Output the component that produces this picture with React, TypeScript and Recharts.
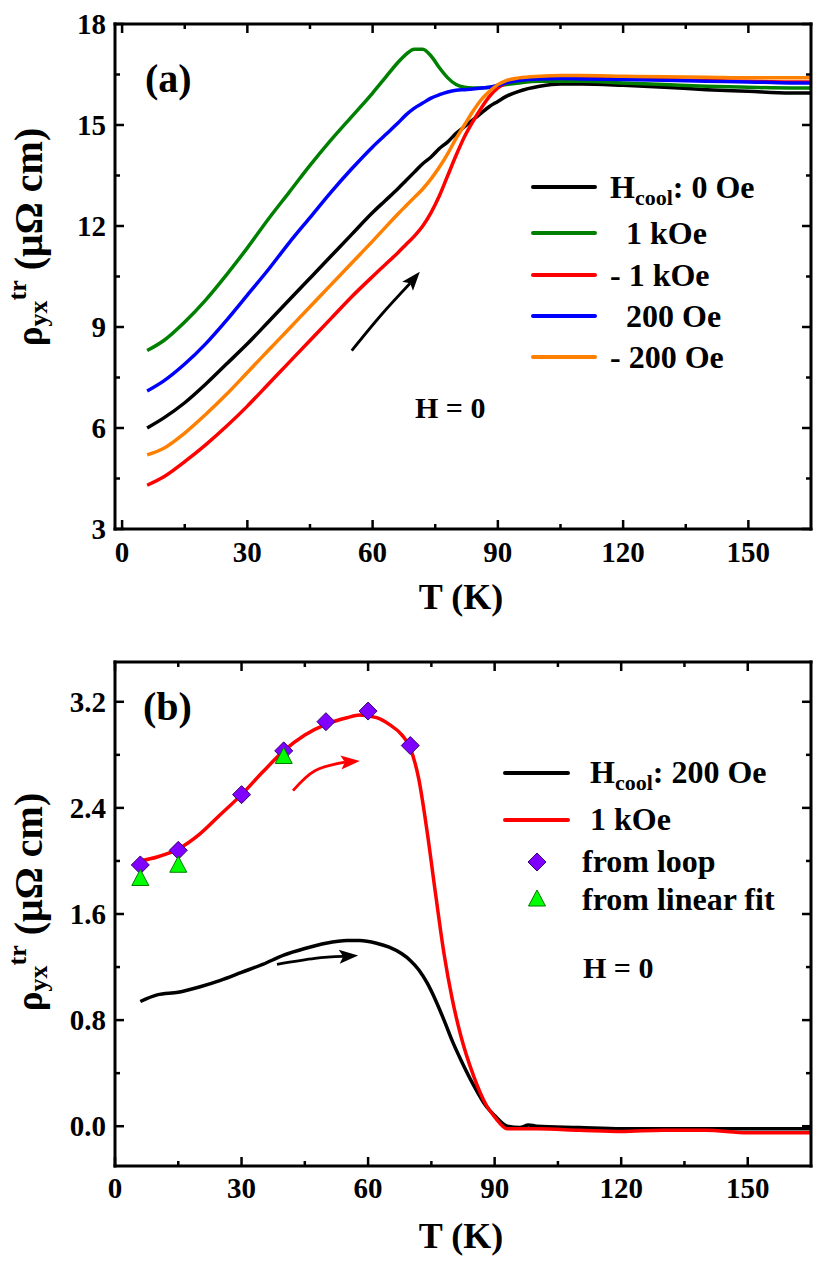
import React from 'react'
import {
  ComposedChart, Line, Scatter, XAxis, YAxis, Legend, Customized,
} from 'recharts'

const FONT = '"Liberation Serif", "Times New Roman", Times, serif'

// panel (a): transverse resistivity vs T after cooling in different fields
const tempA = [6, 10, 15, 20, 25, 30, 35, 40, 45, 50, 55, 60, 63, 66, 68, 70, 72, 74, 76, 78, 80, 82, 84, 86, 88, 90, 92, 95, 100, 105, 110, 120, 130, 140, 150, 160, 165]
const cool0 = [6.0, 6.3, 6.75, 7.3, 7.9, 8.5, 9.15, 9.8, 10.45, 11.1, 11.75, 12.4, 12.75, 13.1, 13.35, 13.6, 13.85, 14.05, 14.3, 14.5, 14.75, 14.95, 15.15, 15.35, 15.55, 15.7, 15.85, 16.0, 16.15, 16.22, 16.22, 16.18, 16.12, 16.05, 16.0, 15.95, 15.95]
const coolP1k = [8.3, 8.6, 9.15, 9.8, 10.55, 11.35, 12.2, 13.0, 13.8, 14.55, 15.25, 15.95, 16.4, 16.85, 17.1, 17.25, 17.25, 17.05, 16.7, 16.4, 16.2, 16.12, 16.1, 16.1, 16.12, 16.15, 16.2, 16.25, 16.3, 16.3, 16.3, 16.25, 16.2, 16.15, 16.12, 16.1, 16.1]
const coolM1k = [4.3, 4.55, 5.0, 5.5, 6.05, 6.65, 7.3, 7.95, 8.6, 9.25, 9.9, 10.5, 10.85, 11.2, 11.45, 11.7, 12.0, 12.4, 12.9, 13.5, 14.1, 14.65, 15.1, 15.5, 15.85, 16.1, 16.25, 16.35, 16.4, 16.42, 16.4, 16.38, 16.35, 16.32, 16.3, 16.28, 16.28]
const coolP200 = [7.1, 7.4, 7.9, 8.5, 9.2, 9.95, 10.7, 11.5, 12.25, 13.0, 13.7, 14.35, 14.7, 15.05, 15.3, 15.5, 15.65, 15.8, 15.9, 15.98, 16.03, 16.05, 16.07, 16.1, 16.12, 16.18, 16.25, 16.32, 16.37, 16.38, 16.37, 16.35, 16.33, 16.3, 16.28, 16.25, 16.25]
const coolM200 = [5.2, 5.4, 5.85, 6.4, 7.0, 7.65, 8.3, 8.95, 9.6, 10.25, 10.9, 11.55, 11.95, 12.35, 12.6, 12.85, 13.1, 13.4, 13.75, 14.15, 14.6, 15.0, 15.4, 15.75, 16.0, 16.2, 16.32, 16.4, 16.45, 16.47, 16.47, 16.45, 16.43, 16.42, 16.4, 16.4, 16.4]
const arrowAT = [55, 62, 69]
const arrowAV = [8.3, 9.35, 10.3]
const xTicksA = [0, 15, 30, 45, 60, 75, 90, 105, 120, 135, 150]
const yTicksA = [3, 4.5, 6, 7.5, 9, 10.5, 12, 13.5, 15, 16.5, 18]

// panel (b)
const tempB = [6, 10, 15, 20, 25, 30, 35, 40, 45, 50, 55, 58, 62, 65, 68, 70, 72, 74, 76, 78, 80, 82, 85, 88, 90, 93, 96, 98, 100, 110, 120, 130, 140, 150, 160, 165]
const cool200 = [0.94, 0.99, 1.01, 1.05, 1.1, 1.16, 1.22, 1.29, 1.34, 1.38, 1.4, 1.4, 1.38, 1.35, 1.3, 1.25, 1.18, 1.08, 0.95, 0.8, 0.64, 0.5, 0.31, 0.15, 0.08, 0.0, -0.01, 0.01, 0.0, -0.01, -0.02, -0.02, -0.02, -0.02, -0.02, -0.02]
const cool1k = [2.0, 2.03, 2.09, 2.2, 2.35, 2.5, 2.67, 2.83, 2.95, 3.03, 3.08, 3.1, 3.08, 3.03, 2.95, 2.85, 2.62, 2.22, 1.75, 1.3, 0.95, 0.68, 0.38, 0.16, 0.07, -0.02, -0.02, -0.02, -0.02, -0.03, -0.04, -0.03, -0.03, -0.05, -0.05, -0.05]
const loopT = [6, 15, 30, 40, 50, 60, 70]
const loopV = [1.97, 2.08, 2.5, 2.83, 3.05, 3.13, 2.87]
const fitT = [6, 15, 40]
const fitV = [1.86, 1.96, 2.78]
const arrowRedT = [42.2, 47.4, 54.5]
const arrowRedV = [2.53, 2.68, 2.745]
const arrowBlkT = [38.4, 47.4, 54.1]
const arrowBlkV = [1.22, 1.265, 1.28]
const xTicksB = [0, 15, 30, 45, 60, 75, 90, 105, 120, 135, 150]
const yTicksB = [0, 0.4, 0.8, 1.2, 1.6, 2.0, 2.4, 2.8, 3.2]

const seriesA = [
  { name: 'H_cool: 0 Oe', v: cool0, color: '#000000' },
  { name: '  1 kOe', v: coolP1k, color: '#008000' },
  { name: '- 1 kOe', v: coolM1k, color: '#ff0000' },
  { name: '  200 Oe', v: coolP200, color: '#0000ff' },
  { name: '- 200 Oe', v: coolM200, color: '#ff8000' },
]
const legendB = [
  { name: 'H_cool: 200 Oe', type: 'line', color: '#000000' },
  { name: '1 kOe', type: 'line', color: '#ff0000' },
  { name: 'from loop', type: 'diamond', color: '#8000ff' },
  { name: 'from linear fit', type: 'triangle', color: '#00ff00' },
]

const rows = (t: number[], v: number[]) => t.map((x, i) => ({ t: x, v: v[i] }))

const txt = { fontFamily: FONT, fontWeight: 700, fill: '#000' }
const AX = { stroke: '#000', strokeWidth: 3, strokeLinecap: 'square' as const }

const isMult = (v: number, step: number) => Math.abs(v / step - Math.round(v / step)) < 1e-6

function bottomTick(step: number, dy: number) {
  return (p: any) => {
    const v = p.payload.value
    const major = isMult(v, step)
    return (
      <g>
        <line x1={p.x} x2={p.x} y1={p.y} y2={p.y - (major ? 9 : 5)} stroke="#000" strokeWidth={2.5} />
        {major && <text x={p.x} y={p.y + dy} textAnchor="middle" style={{ ...txt, fontSize: 29 }}>{v}</text>}
      </g>
    )
  }
}

function topTick(step: number) {
  return (p: any) => {
    const major = isMult(p.payload.value, step)
    return <line x1={p.x} x2={p.x} y1={p.y} y2={p.y + (major ? 9 : 5)} stroke="#000" strokeWidth={2.5} />
  }
}

function leftTick(step: number, fmt: (v: number) => string) {
  return (p: any) => {
    const v = p.payload.value
    const major = isMult(v, step)
    return (
      <g>
        <line x1={p.x} x2={p.x + (major ? 9 : 5)} y1={p.y} y2={p.y} stroke="#000" strokeWidth={2.5} />
        {major && <text x={p.x - 9} y={p.y + 10} textAnchor="end" style={{ ...txt, fontSize: 29 }}>{fmt(v)}</text>}
      </g>
    )
  }
}

function rightTick(step: number) {
  return (p: any) => {
    const major = isMult(p.payload.value, step)
    return <line x1={p.x} x2={p.x - (major ? 9 : 5)} y1={p.y} y2={p.y} stroke="#000" strokeWidth={2.5} />
  }
}

function arrowDot(n: number, angle: number, color: string) {
  return (p: any) => {
    if (p.index !== n - 1) return <g key={`d${p.index}`} />
    return (
      <polygon
        key={`d${p.index}`}
        points="15,0 -4,-7 0,0 -4,7"
        transform={`translate(${p.cx},${p.cy}) rotate(${angle})`}
        fill={color}
      />
    )
  }
}

function YLabel({ x, y }: { x: number; y: number }) {
  return (
    <text transform={`translate(${x},${y}) rotate(-90)`} textAnchor="middle" xmlSpace="preserve"
      style={{ ...txt, fontSize: 40, whiteSpace: 'pre' }}>
      <tspan fontSize={37}>ρ</tspan><tspan fontSize={26} dy={5}>yx</tspan><tspan fontSize={26} dy={-21}>tr</tspan><tspan dy={16}> (μΩ cm)</tspan>
    </text>
  )
}

function LegendName({ x, y, name }: { x: number; y: number; name: string }) {
  if (name.startsWith('H_cool')) {
    return (
      <text x={x} y={y} xmlSpace="preserve" style={{ ...txt, fontSize: 32, whiteSpace: 'pre' }}>
        H<tspan fontSize={22} dy={7}>cool</tspan><tspan dy={-7}>{name.slice(6)}</tspan>
      </text>
    )
  }
  return <text x={x} y={y} xmlSpace="preserve" style={{ ...txt, fontSize: 32, whiteSpace: 'pre' }}>{name}</text>
}

function Marker({ type, cx, cy }: { type: string; cx: number; cy: number }) {
  if (type === 'triangle') {
    return <polygon points={`${cx},${cy - 10} ${cx + 8.5},${cy + 6} ${cx - 8.5},${cy + 6}`} fill="#00ff00" stroke="#007a00" strokeWidth={1} />
  }
  return <polygon points={`${cx},${cy - 9} ${cx + 9},${cy} ${cx},${cy + 9} ${cx - 9},${cy}`} fill="#8000ff" stroke="#3a006e" strokeWidth={1} />
}

const legendRowsA = [187, 233, 275, 316, 357]
const legendRowsB = [143, 190, 232, 270]

function renderLegendA() {
  return (
    <svg width={817} height={630} style={{ display: 'block' }}>
      {seriesA.map((s, i) => (
        <g key={i}>
          <line x1={533} x2={595} y1={legendRowsA[i]} y2={legendRowsA[i]} stroke={s.color} strokeWidth={4} strokeLinecap="round" />
          <LegendName x={610} y={legendRowsA[i] + 11} name={s.name} />
        </g>
      ))}
    </svg>
  )
}

function renderLegendB() {
  return (
    <svg width={817} height={631} style={{ display: 'block' }}>
      {legendB.map((s, i) => {
        const y = legendRowsB[i]
        const isLine = s.type === 'line'
        return (
          <g key={i}>
            {isLine
              ? <line x1={505} x2={568} y1={y} y2={y} stroke={s.color} strokeWidth={4} strokeLinecap="round" />
              : <Marker type={s.type} cx={537} cy={y} />}
            <LegendName x={isLine ? 590 : 582} y={y + 10} name={s.name} />
          </g>
        )
      })}
    </svg>
  )
}

const diamondShape = (p: any) => <Marker type="diamond" cx={p.cx} cy={p.cy} />
const triangleShape = (p: any) => <Marker type="triangle" cx={p.cx} cy={p.cy} />

function PanelA() {
  return (
    <ComposedChart width={817} height={630} margin={{ top: 0, right: 0, bottom: 0, left: 0 }}>
      <XAxis dataKey="t" type="number" domain={[-1.7, 165]} ticks={xTicksA} interval={0} height={101}
        tickSize={0} tickMargin={0} tickLine={false} axisLine={AX} tick={bottomTick(30, 33)} allowDataOverflow />
      <XAxis xAxisId="top" dataKey="t" orientation="top" type="number" domain={[-1.7, 165]} ticks={xTicksA} interval={0} height={24}
        tickSize={0} tickMargin={0} tickLine={false} axisLine={AX} tick={topTick(30)} allowDataOverflow />
      <YAxis dataKey="v" type="number" domain={[3, 18]} ticks={yTicksA} interval={0} width={115}
        tickSize={0} tickMargin={0} tickLine={false} axisLine={AX} tick={leftTick(3, (v) => String(v))} allowDataOverflow />
      <YAxis yAxisId="right" dataKey="v" orientation="right" type="number" domain={[3, 18]} ticks={yTicksA} interval={0} width={6}
        tickSize={0} tickMargin={0} tickLine={false} axisLine={AX} tick={rightTick(3)} allowDataOverflow />
      {seriesA.map((s) => (
        <Line key={s.name} name={s.name} data={rows(tempA, s.v)} dataKey="v" stroke={s.color} strokeWidth={3.5}
          type="monotone" dot={false} activeDot={false} isAnimationActive={false} />
      ))}
      <Line name="arrow" legendType="none" data={rows(arrowAT, arrowAV)} dataKey="v" stroke="#000" strokeWidth={2.8}
        type="natural" dot={arrowDot(arrowAT.length, -50, '#000')} activeDot={false} isAnimationActive={false} />
      <Legend verticalAlign="middle" layout="horizontal" align="center" content={renderLegendA}
        wrapperStyle={{ position: 'absolute', left: 0, top: 0, width: 817, height: 630 }} />
      <Customized component={() => (
        <g>
          <text x={145} y={92} style={{ ...txt, fontSize: 40 }}>(a)</text>
          <text x={415} y={418} style={{ ...txt, fontSize: 30 }}>H = 0</text>
          <text x={461} y={609} textAnchor="middle" style={{ ...txt, fontSize: 36 }}>T (K)</text>
          <YLabel x={42} y={237} />
        </g>
      )} />
    </ComposedChart>
  )
}

function PanelB() {
  return (
    <ComposedChart width={817} height={631} margin={{ top: 0, right: 0, bottom: 0, left: 0 }}>
      <XAxis dataKey="t" type="number" domain={[0, 165]} ticks={xTicksB} interval={0} height={95}
        tickSize={0} tickMargin={0} tickLine={false} axisLine={AX} tick={bottomTick(30, 32)} allowDataOverflow />
      <XAxis xAxisId="top" dataKey="t" orientation="top" type="number" domain={[0, 165]} ticks={xTicksB} interval={0} height={32}
        tickSize={0} tickMargin={0} tickLine={false} axisLine={AX} tick={topTick(30)} allowDataOverflow />
      <YAxis dataKey="v" type="number" domain={[-0.3, 3.5]} ticks={yTicksB} interval={0} width={115}
        tickSize={0} tickMargin={0} tickLine={false} axisLine={AX} tick={leftTick(0.8, (v) => v.toFixed(1))} allowDataOverflow />
      <YAxis yAxisId="right" dataKey="v" orientation="right" type="number" domain={[-0.3, 3.5]} ticks={yTicksB} interval={0} width={6}
        tickSize={0} tickMargin={0} tickLine={false} axisLine={AX} tick={rightTick(0.8)} allowDataOverflow />
      <Line name="H_cool: 200 Oe" data={rows(tempB, cool200)} dataKey="v" stroke="#000000" strokeWidth={3.5}
        type="monotone" dot={false} activeDot={false} isAnimationActive={false} />
      <Line name="1 kOe" data={rows(tempB, cool1k)} dataKey="v" stroke="#ff0000" strokeWidth={3.5}
        type="monotone" dot={false} activeDot={false} isAnimationActive={false} />
      <Scatter name="from loop" data={rows(loopT, loopV)} dataKey="v" fill="#8000ff"
        shape={diamondShape} isAnimationActive={false} />
      <Scatter name="from linear fit" data={rows(fitT, fitV)} dataKey="v" fill="#00ff00"
        shape={triangleShape} isAnimationActive={false} />
      <Line name="arrowRed" legendType="none" data={rows(arrowRedT, arrowRedV)} dataKey="v" stroke="#ff0000" strokeWidth={2.8}
        type="natural" dot={arrowDot(arrowRedT.length, -4, '#ff0000')} activeDot={false} isAnimationActive={false} />
      <Line name="arrowBlack" legendType="none" data={rows(arrowBlkT, arrowBlkV)} dataKey="v" stroke="#000" strokeWidth={2.8}
        type="natural" dot={arrowDot(arrowBlkT.length, -4, '#000')} activeDot={false} isAnimationActive={false} />
      <Legend verticalAlign="middle" layout="horizontal" align="center" content={renderLegendB}
        wrapperStyle={{ position: 'absolute', left: 0, top: 0, width: 817, height: 631 }} />
      <Customized component={() => (
        <g>
          <text x={143} y={90} style={{ ...txt, fontSize: 40 }}>(b)</text>
          <text x={583} y={348} style={{ ...txt, fontSize: 30 }}>H = 0</text>
          <text x={461} y={618} textAnchor="middle" style={{ ...txt, fontSize: 36 }}>T (K)</text>
          <YLabel x={42} y={272} />
        </g>
      )} />
    </ComposedChart>
  )
}

export default function App() {
  return (
    <div style={{ position: 'absolute', left: 0, top: 0, width: 817, height: 1261, background: '#fff' }}>
      <div style={{ position: 'absolute', left: 0, top: 0 }}><PanelA /></div>
      <div style={{ position: 'absolute', left: 0, top: 630 }}><PanelB /></div>
    </div>
  )
}
